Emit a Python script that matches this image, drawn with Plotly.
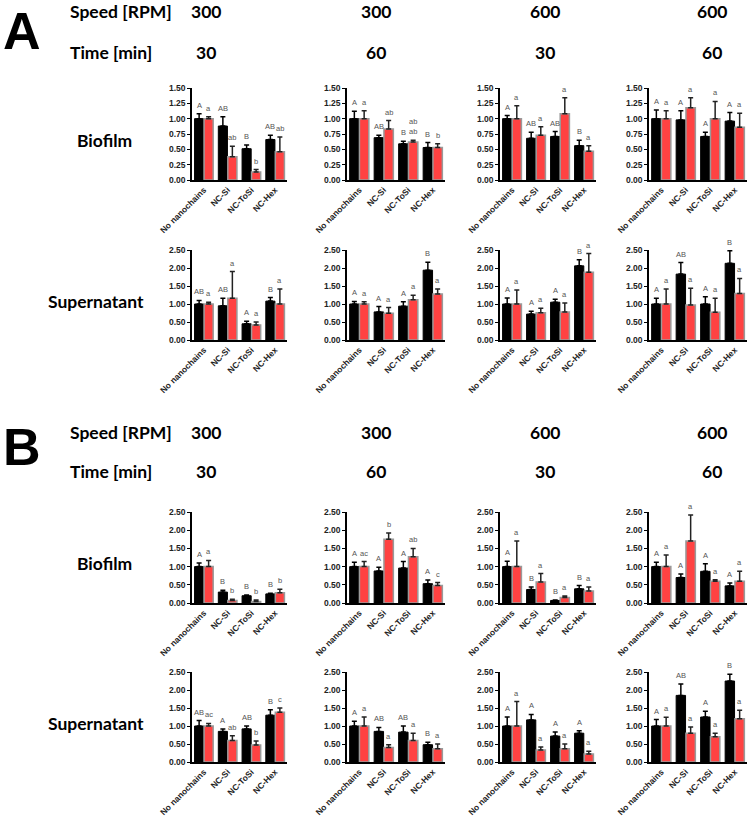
import plotly.graph_objects as go

W, H = 750, 817

categories = ["No nanochains", "NC-Si", "NC-ToSi", "NC-Hex"]
speeds = ["300", "300", "600", "600"]
times = ["30", "60", "30", "60"]
row_names = ["Biofilm", "Supernatant"]

# ---------- Panel A ----------
A_bio_black = [[1.00, 0.88, 0.51, 0.66], [1.00, 0.69, 0.59, 0.53], [1.00, 0.68, 0.71, 0.56], [1.00, 0.98, 0.71, 0.96]]
A_bio_black_err = [[0.08, 0.15, 0.06, 0.07], [0.12, 0.04, 0.04, 0.08], [0.05, 0.10, 0.08, 0.09], [0.14, 0.15, 0.07, 0.14]]
A_bio_red = [[1.00, 0.38, 0.13, 0.46], [1.00, 0.83, 0.62, 0.53], [1.00, 0.73, 1.08, 0.47], [1.00, 1.18, 1.00, 0.86]]
A_bio_red_err = [[0.03, 0.17, 0.04, 0.24], [0.13, 0.14, 0.03, 0.06], [0.21, 0.14, 0.26, 0.09], [0.13, 0.16, 0.28, 0.23]]
A_bio_black_lbl = [["A", "AB", "B", "AB"], ["A", "AB", "B", "B"], ["A", "AB", "AB", "B"], ["A", "A", "A", "A"]]
A_bio_red_lbl = [["a", "ab", "b", "ab"], ["a", "ab", "ab<br>ab", "b"], ["a", "a", "a", "a"], ["a", "a", "a", "a"]]

A_sup_black = [[1.00, 0.95, 0.45, 1.08], [1.00, 0.78, 0.94, 1.94], [1.00, 0.72, 1.05, 2.06], [1.00, 1.83, 1.00, 2.13]]
A_sup_black_err = [[0.10, 0.21, 0.07, 0.10], [0.07, 0.15, 0.12, 0.22], [0.17, 0.08, 0.08, 0.17], [0.16, 0.32, 0.20, 0.35]]
A_sup_red = [[1.00, 1.16, 0.42, 1.00], [1.00, 0.74, 1.12, 1.28], [1.00, 0.76, 0.78, 1.88], [1.00, 0.97, 0.77, 1.29]]
A_sup_red_err = [[0.05, 0.74, 0.08, 0.42], [0.06, 0.16, 0.12, 0.14], [0.39, 0.12, 0.25, 0.52], [0.42, 0.47, 0.39, 0.42]]
A_sup_black_lbl = [["AB", "AB", "A", "B"], ["A", "A", "A", "B"], ["A", "A", "A", "B"], ["A", "AB", "A", "B"]]
A_sup_red_lbl = [["a", "a", "a", "a"], ["a", "a", "a", "a"], ["a", "a", "a", "a"], ["a", "a", "a", "a"]]

# ---------- Panel B ----------
B_bio_black = [[1.00, 0.30, 0.20, 0.25], [1.00, 0.88, 0.96, 0.53], [1.00, 0.37, 0.07, 0.39], [1.00, 0.70, 0.87, 0.47]]
B_bio_black_err = [[0.10, 0.05, 0.02, 0.02], [0.12, 0.10, 0.18, 0.10], [0.15, 0.07, 0.01, 0.09], [0.12, 0.10, 0.21, 0.08]]
B_bio_red = [[1.00, 0.07, 0.04, 0.28], [1.00, 1.75, 1.27, 0.48], [1.00, 0.58, 0.15, 0.33], [1.00, 1.70, 0.60, 0.60]]
B_bio_red_err = [[0.17, 0.03, 0.04, 0.10], [0.14, 0.17, 0.23, 0.08], [0.70, 0.23, 0.04, 0.11], [0.32, 0.72, 0.04, 0.27]]
B_bio_black_lbl = [["A", "B", "B", "B"], ["A", "A", "A", "A"], ["A", "B", "B", "B"], ["A", "A", "A", "A"]]
B_bio_red_lbl = [["a", "b", "b", "b"], ["ac", "b", "ab", "c"], ["a", "a", "a", "a"], ["a", "a", "a", "a"]]

B_sup_black = [[1.00, 0.85, 0.92, 1.30], [1.00, 0.85, 0.83, 0.48], [1.00, 1.17, 0.72, 0.80], [1.00, 1.85, 1.25, 2.25]]
B_sup_black_err = [[0.15, 0.07, 0.08, 0.15], [0.13, 0.11, 0.17, 0.07], [0.25, 0.15, 0.11, 0.07], [0.18, 0.32, 0.16, 0.19]]
B_sup_red = [[1.00, 0.60, 0.47, 1.38], [1.00, 0.40, 0.60, 0.37], [1.00, 0.33, 0.37, 0.22], [1.00, 0.80, 0.70, 1.20]]
B_sup_red_err = [[0.07, 0.13, 0.11, 0.12], [0.25, 0.08, 0.20, 0.13], [0.68, 0.09, 0.13, 0.08], [0.24, 0.17, 0.10, 0.24]]
B_sup_black_lbl = [["AB", "A", "AB", "B"], ["A", "AB", "AB", "B"], ["A", "A", "A", "A"], ["A", "AB", "A", "B"]]
B_sup_red_lbl = [["ac", "ab", "b", "c"], ["a", "a", "a", "a"], ["a", "a", "a", "a"], ["a", "a", "a", "a"]]

bio_ticks = [0, 0.25, 0.5, 0.75, 1.0, 1.25, 1.5]
sup_ticks = [0, 0.5, 1.0, 1.5, 2.0, 2.5]

# ---------- geometry (pixels) ----------
col_x = [(192, 287), (347, 445), (500, 596), (649, 747)]
row_y = [(88, 180), (250, 340), (512, 603), (672, 762)]  # (top, bottom)
panel_top = [0, 420]

BLACK = "#000000"
RED = "#FF4242"
RED_EDGE = "#9a9a9a"
LETTER = "#555555"
TICKFONT = dict(family="Liberation Sans", size=8.5, color="#222222", weight="bold")
LETTERFONT = dict(family="Liberation Sans", size=7.5, color=LETTER)

fig = go.Figure()
layout = {}
annotations = []

panels = [
    [(A_bio_black, A_bio_black_err, A_bio_red, A_bio_red_err, A_bio_black_lbl, A_bio_red_lbl, bio_ticks, 1.5),
     (A_sup_black, A_sup_black_err, A_sup_red, A_sup_red_err, A_sup_black_lbl, A_sup_red_lbl, sup_ticks, 2.5)],
    [(B_bio_black, B_bio_black_err, B_bio_red, B_bio_red_err, B_bio_black_lbl, B_bio_red_lbl, sup_ticks, 2.5),
     (B_sup_black, B_sup_black_err, B_sup_red, B_sup_red_err, B_sup_black_lbl, B_sup_red_lbl, sup_ticks, 2.5)],
]

k = 0
for p, panel in enumerate(panels):
    for r, rowdata in enumerate(panel):
        blk, blk_e, red, red_e, blbl, rlbl, ticks, ymax = rowdata
        top, bot = row_y[p * 2 + r]
        for c in range(4):
            k += 1
            xa = "x" if k == 1 else f"x{k}"
            ya = "y" if k == 1 else f"y{k}"
            fig.add_trace(go.Bar(
                x=categories, y=blk[c], xaxis=xa, yaxis=ya,
                marker=dict(color=BLACK, line=dict(color=BLACK, width=1)),
                error_y=dict(type="data", symmetric=False, array=blk_e[c], arrayminus=[0] * 4,
                             color=BLACK, thickness=1.5, width=2.5),
                showlegend=False, cliponaxis=False))
            fig.add_trace(go.Bar(
                x=categories, y=red[c], xaxis=xa, yaxis=ya,
                marker=dict(color=RED, line=dict(color=RED_EDGE, width=1.5)),
                error_y=dict(type="data", symmetric=False, array=red_e[c], arrayminus=[0] * 4,
                             color="#222222", thickness=1.5, width=2.5),
                showlegend=False, cliponaxis=False))
            x0, x1 = col_x[c]
            xd = [x0 / W, min(x1 / W, 1.0)]
            yd = [1 - bot / H, 1 - top / H]
            kk = "" if k == 1 else str(k)
            layout["xaxis" + kk] = dict(
                domain=xd, anchor=ya, type="category", range=[-0.5, 3.5], automargin=False,
                showline=True, linecolor="black", linewidth=1.5, ticks="", showgrid=False,
                tickangle=-45, tickfont=TICKFONT, zeroline=False, fixedrange=True)
            layout["yaxis" + kk] = dict(
                domain=yd, anchor=xa, range=[0, ymax], tickvals=ticks, automargin=False,
                ticktext=[f"{t:.2f}" for t in ticks],
                showline=True, linecolor="black", linewidth=1.5, ticks="outside",
                ticklen=3, tickwidth=1.2, tickcolor="black", showgrid=False,
                zeroline=False, tickfont=TICKFONT, fixedrange=True)
            for i in range(4):
                annotations.append(dict(
                    x=i - 0.2, y=blk[c][i] + blk_e[c][i], xref=xa, yref=ya, text=blbl[c][i],
                    showarrow=False, yanchor="bottom", yshift=2, font=LETTERFONT))
                annotations.append(dict(
                    x=i + 0.2, y=red[c][i] + red_e[c][i], xref=xa, yref=ya, text=rlbl[c][i],
                    showarrow=False, yanchor="bottom", yshift=2, font=LETTERFONT))

HEAD = dict(family="Lato", size=17.5, color="black", weight="bold")
header_x = [206, 376, 545, 712]
for p, letter in enumerate(["A", "B"]):
    t0 = panel_top[p]
    annotations.append(dict(x=1 / W, y=1 - max(t0 - 4, 0) / H, xref="paper", yref="paper", text=letter,
                            showarrow=False, xanchor="left", yanchor="top",
                            font=dict(family="Liberation Sans", size=52, color="black", weight="bold")))
    annotations.append(dict(x=68 / W, y=1 - (t0 + 12) / H, xref="paper", yref="paper", text="Speed [RPM]",
                            showarrow=False, xanchor="left", yanchor="middle", font=HEAD))
    annotations.append(dict(x=68 / W, y=1 - (t0 + 52) / H, xref="paper", yref="paper", text="Time [min]",
                            showarrow=False, xanchor="left", yanchor="middle", font=HEAD))
    for c in range(4):
        annotations.append(dict(x=header_x[c] / W, y=1 - (t0 + 12) / H, xref="paper", yref="paper",
                                text=speeds[c], showarrow=False, xanchor="center", yanchor="middle", font=HEAD))
        annotations.append(dict(x=header_x[c] / W, y=1 - (t0 + 52) / H, xref="paper", yref="paper",
                                text=times[c], showarrow=False, xanchor="center", yanchor="middle", font=HEAD))
    for r in range(2):
        top, bot = row_y[p * 2 + r]
        annotations.append(dict(x=(146 if r == 1 else 134) / W, y=1 - ((top + bot) / 2 + 6) / H,
                                xref="paper", yref="paper", text=row_names[r], showarrow=False,
                                xanchor="right", yanchor="middle", font=HEAD))

fig.update_layout(
    width=W, height=H, margin=dict(l=0, r=0, t=0, b=0, autoexpand=False),
    paper_bgcolor="white", plot_bgcolor="white",
    barmode="group", bargap=0.2, bargroupgap=0.04,
    annotations=annotations, **layout)

fig.write_html("out.html", config={"displayModeBar": False})
